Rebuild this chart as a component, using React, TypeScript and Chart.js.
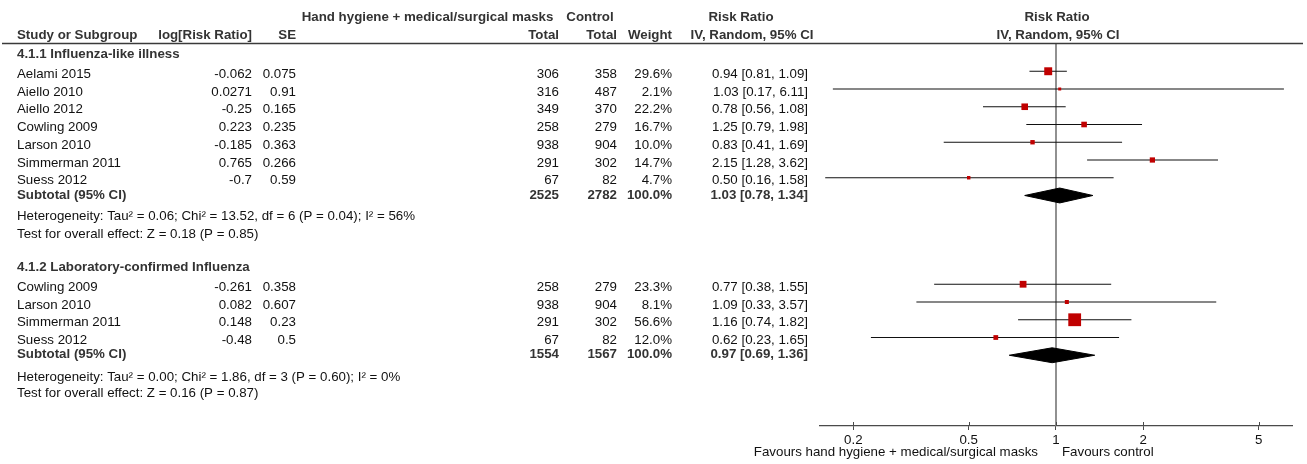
import React, { useEffect, useRef } from "react";
import { Chart, registerables } from "chart.js";

Chart.register(...registerables);

const FONT = '"Liberation Sans", Arial, Helvetica, sans-serif';
const FS = 13.3;

// ---- Subgroup 4.1.1 Influenza-like illness ----
const group1Title = "4.1.1 Influenza-like illness";
const studies1 = ["Aelami 2015", "Aiello 2010", "Aiello 2012", "Cowling 2009", "Larson 2010", "Simmerman 2011", "Suess 2012"];
const logRR1 = ["-0.062", "0.0271", "-0.25", "0.223", "-0.185", "0.765", "-0.7"];
const se1 = ["0.075", "0.91", "0.165", "0.235", "0.363", "0.266", "0.59"];
const expTotal1 = [306, 316, 349, 258, 938, 291, 67];
const ctrlTotal1 = [358, 487, 370, 279, 904, 302, 82];
const weight1 = [29.6, 2.1, 22.2, 16.7, 10.0, 14.7, 4.7];
const rr1 = [0.94, 1.03, 0.78, 1.25, 0.83, 2.15, 0.5];
const lo1 = [0.81, 0.17, 0.56, 0.79, 0.41, 1.28, 0.16];
const hi1 = [1.09, 6.11, 1.08, 1.98, 1.69, 3.62, 1.58];
const subtotal1 = { exp: 2525, ctrl: 2782, weight: 100.0, rr: 1.03, lo: 0.78, hi: 1.34 };
const het1 = "Heterogeneity: Tau\u00b2 = 0.06; Chi\u00b2 = 13.52, df = 6 (P = 0.04); I\u00b2 = 56%";
const test1 = "Test for overall effect: Z = 0.18 (P = 0.85)";

// ---- Subgroup 4.1.2 Laboratory-confirmed Influenza ----
const group2Title = "4.1.2 Laboratory-confirmed Influenza";
const studies2 = ["Cowling 2009", "Larson 2010", "Simmerman 2011", "Suess 2012"];
const logRR2 = ["-0.261", "0.082", "0.148", "-0.48"];
const se2 = ["0.358", "0.607", "0.23", "0.5"];
const expTotal2 = [258, 938, 291, 67];
const ctrlTotal2 = [279, 904, 302, 82];
const weight2 = [23.3, 8.1, 56.6, 12.0];
const rr2 = [0.77, 1.09, 1.16, 0.62];
const lo2 = [0.38, 0.33, 0.74, 0.23];
const hi2 = [1.55, 3.57, 1.82, 1.65];
const subtotal2 = { exp: 1554, ctrl: 1567, weight: 100.0, rr: 0.97, lo: 0.69, hi: 1.36 };
const het2 = "Heterogeneity: Tau\u00b2 = 0.00; Chi\u00b2 = 1.86, df = 3 (P = 0.60); I\u00b2 = 0%";
const test2 = "Test for overall effect: Z = 0.16 (P = 0.87)";

// ---- Axis ----
const tickValues = [0.2, 0.5, 1, 2, 5];
const tickLabels = ["0.2", "0.5", "1", "2", "5"];
const favoursLeft = "Favours hand hygiene + medical/surgical masks";
const favoursRight = "Favours control";

const fmtRR = (r: number, l: number, h: number) => `${r.toFixed(2)} [${l.toFixed(2)}, ${h.toFixed(2)}]`;
const sideFor = (w: number) => 2.6 + 0.18 * w;

export default function App() {
  const ref = useRef<HTMLCanvasElement>(null);

  useEffect(() => {
    const canvas = ref.current;
    if (!canvas) return;

    const Y_MIN = -0.535;
    const Y_MAX = 20.986;
    const rows1 = studies1.map((_, i) => 1 + i);
    const rows2 = studies2.map((_, i) => 13 + i);
    const subRow1 = 8;
    const subRow2 = 17;
    const DH = 0.42;

    const datasets: any[] = [];

    // squares
    datasets.push({
      data: [
        ...rr1.map((v, i) => ({ x: v, y: rows1[i] })),
        ...rr2.map((v, i) => ({ x: v, y: rows2[i] })),
      ],
      pointStyle: "rect",
      pointRadius: [...weight1, ...weight2].map((w) => sideFor(w) / Math.SQRT2),
      backgroundColor: "#c00000",
      borderWidth: 0,
      showLine: false,
      order: 1,
    });

    // diamonds
    [
      { s: subtotal1, r: subRow1 },
      { s: subtotal2, r: subRow2 },
    ].forEach(({ s, r }) => {
      datasets.push({
        data: [
          { x: s.lo, y: r },
          { x: s.rr, y: r - DH },
          { x: s.hi, y: r },
          { x: s.rr, y: r + DH },
          { x: s.lo, y: r },
        ],
        showLine: true,
        fill: "shape",
        backgroundColor: "#000",
        borderColor: "#000",
        borderWidth: 1,
        pointRadius: 0,
        order: 2,
      });
    });

    // whiskers
    const addWhisker = (l: number, h: number, r: number) =>
      datasets.push({
        data: [
          { x: l, y: r },
          { x: h, y: r },
        ],
        showLine: true,
        borderColor: "#111",
        borderWidth: 1.2,
        pointRadius: 0,
        fill: false,
        order: 5,
      });
    lo1.forEach((l, i) => addWhisker(l, hi1[i], rows1[i]));
    lo2.forEach((l, i) => addWhisker(l, hi2[i], rows2[i]));

    // line of no effect
    datasets.push({
      data: [
        { x: 1, y: Y_MIN },
        { x: 1, y: Y_MAX },
      ],
      showLine: true,
      borderColor: "#858585",
      borderWidth: 1.8,
      pointRadius: 0,
      fill: false,
      order: 10,
    });

    const textPlugin = {
      id: "forestText",
      afterDraw(chart: any) {
        const { ctx, scales, chartArea } = chart;
        const xs = scales.x;
        const ys = scales.y;
        ctx.save();
        const txt = (s: string, px: number, py: number, align: CanvasTextAlign, bold = false) => {
          ctx.font = `${bold ? "bold " : ""}${FS}px ${FONT}`;
          ctx.fillStyle = bold ? "#333" : "#111";
          ctx.textAlign = align;
          ctx.textBaseline = "middle";
          ctx.fillText(s, px, py);
        };
        const ty = (r: number) => ys.getPixelForValue(r) + 3;

        // header line
        ctx.strokeStyle = "#3a3a3a";
        ctx.lineWidth = 1.5;
        ctx.beginPath();
        ctx.moveTo(2, 43.5);
        ctx.lineTo(1303, 43.5);
        ctx.stroke();

        // headers
        txt("Hand hygiene + medical/surgical masks", 427.5, 17, "center", true);
        txt("Control", 590, 17, "center", true);
        txt("Risk Ratio", 741, 17, "center", true);
        txt("Risk Ratio", 1057, 17, "center", true);
        txt("Study or Subgroup", 17, 35, "left", true);
        txt("log[Risk Ratio]", 252, 35, "right", true);
        txt("SE", 296, 35, "right", true);
        txt("Total", 559, 35, "right", true);
        txt("Total", 617, 35, "right", true);
        txt("Weight", 672, 35, "right", true);
        txt("IV, Random, 95% CI", 752, 35, "center", true);
        txt("IV, Random, 95% CI", 1058, 35, "center", true);

        const group = (
          title: string, titleRow: number, names: string[], rows: number[], lrr: string[], se: string[],
          et: number[], ct: number[], w: number[], rr: number[], lo: number[], hi: number[],
          sub: any, subTextRow: number, het: string, hetRow: number, test: string, testRow: number
        ) => {
          txt(title, 17, ty(titleRow), "left", true);
          names.forEach((n, i) => {
            const yy = ty(rows[i]);
            txt(n, 17, yy, "left");
            txt(lrr[i], 252, yy, "right");
            txt(se[i], 296, yy, "right");
            txt(String(et[i]), 559, yy, "right");
            txt(String(ct[i]), 617, yy, "right");
            txt(`${w[i].toFixed(1)}%`, 672, yy, "right");
            txt(fmtRR(rr[i], lo[i], hi[i]), 808, yy, "right");
          });
          const sy = ty(subTextRow);
          txt("Subtotal (95% CI)", 17, sy, "left", true);
          txt(String(sub.exp), 559, sy, "right", true);
          txt(String(sub.ctrl), 617, sy, "right", true);
          txt(`${sub.weight.toFixed(1)}%`, 672, sy, "right", true);
          txt(fmtRR(sub.rr, sub.lo, sub.hi), 808, sy, "right", true);
          txt(het, 17, ty(hetRow), "left");
          txt(test, 17, ty(testRow), "left");
        };
        group(group1Title, -0.14, studies1, rows1, logRR1, se1, expTotal1, ctrlTotal1, weight1, rr1, lo1, hi1,
          subtotal1, 7.8, het1, 9.0, test1, 10.0);
        group(group2Title, 11.9, studies2, rows2, logRR2, se2, expTotal2, ctrlTotal2, weight2, rr2, lo2, hi2,
          subtotal2, 16.8, het2, 18.05, test2, 19.0);

        // upper half of tick marks
        ctx.strokeStyle = "#4a4a4a";
        ctx.lineWidth = 1;
        tickValues.forEach((v) => {
          const px = Math.round(xs.getPixelForValue(v)) + 0.5;
          ctx.beginPath();
          ctx.moveTo(px, chartArea.bottom - 4);
          ctx.lineTo(px, chartArea.bottom);
          ctx.stroke();
        });

        // favours labels
        const one = xs.getPixelForValue(1);
        ctx.font = `${FS}px ${FONT}`;
        ctx.fillStyle = "#111";
        ctx.textBaseline = "middle";
        ctx.textAlign = "right";
        ctx.fillText(favoursLeft, one - 18, 452);
        ctx.textAlign = "left";
        ctx.fillText(favoursRight, one + 6, 452);
        ctx.restore();
      },
    };

    const chart = new Chart(canvas, {
      type: "scatter",
      data: { datasets },
      options: {
        animation: false,
        responsive: false,
        events: [],
        layout: { padding: { left: 820, right: 15, top: 44, bottom: 0 } },
        plugins: { legend: { display: false }, tooltip: { enabled: false } },
        scales: {
          x: {
            type: "logarithmic",
            min: 0.1535,
            max: 6.515,
            afterBuildTicks: (scale: any) => {
              scale.ticks = tickValues.map((v) => ({ value: v }));
            },
            afterFit: (scale: any) => {
              scale.height = 38;
            },
            ticks: {
              autoSkip: false,
              maxRotation: 0,
              padding: 2,
              color: "#111",
              font: { family: FONT, size: FS },
              callback: (v: any) => {
                const i = tickValues.indexOf(Number(v));
                return i >= 0 ? tickLabels[i] : "";
              },
            },
            grid: { display: true, drawOnChartArea: false, drawTicks: true, tickLength: 4, color: "#4a4a4a", lineWidth: 1 },
            border: { display: true, color: "#4a4a4a", width: 1.2 },
          },
          y: {
            type: "linear",
            display: false,
            reverse: true,
            min: Y_MIN,
            max: Y_MAX,
          },
        },
      } as any,
      plugins: [textPlugin],
    });

    return () => chart.destroy();
  }, []);

  return (
    <div style={{ position: "absolute", left: 0, top: 0, width: 1307, height: 464, background: "#fff" }}>
      <canvas ref={ref} width={1307} height={464} style={{ display: "block", width: 1307, height: 464 }} />
    </div>
  );
}
